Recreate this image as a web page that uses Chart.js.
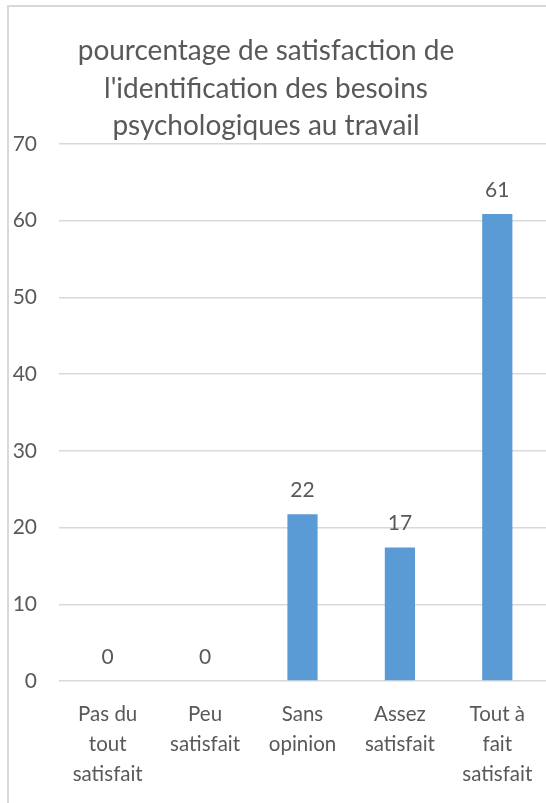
<!DOCTYPE html>
<html>
<head>
<meta charset="utf-8">
<script src="https://cdn.jsdelivr.net/npm/chart.js@4.4.1/dist/chart.umd.min.js"></script>
<style>
  html, body { margin: 0; padding: 0; background: #fff; overflow: hidden; }
  #wrap { position: relative; width: 546px; height: 803px; }
  #frame { position: absolute; left: 7px; top: 5px; right: -10px; bottom: -10px; border-left: 2px solid #d9d9d9; border-top: 2px solid #d9d9d9; }
  canvas { position: absolute; left: 0; top: 0; }
</style>
</head>
<body>
<div id="wrap">
  <div id="frame"></div>
  <canvas id="chart" width="546" height="803"></canvas>
</div>
<script>
// donnees du graphique
const titleLines = ["pourcentage de satisfaction de", "l'identification des besoins", "psychologiques au travail"];
const categories = [["Pas du", "tout", "satisfait"], ["Peu", "satisfait"], ["Sans", "opinion"], ["Assez", "satisfait"], ["Tout à", "fait", "satisfait"]];
const values = [0, 0, 21.74, 17.39, 60.87];
const yMin = 0;
const yMax = 70;
const yStep = 10;

const textColor = "#595959";
const fontFamily = "Lato, 'Open Sans', sans-serif";

// titre dessine a la main (centre decale comme dans l'original)
const titlePlugin = {
  id: "titreManuel",
  afterDraw(chart) {
    const ctx = chart.ctx;
    ctx.save();
    ctx.fillStyle = textColor;
    ctx.font = "28px " + fontFamily;
    ctx.textAlign = "center";
    ctx.textBaseline = "middle";
    titleLines.forEach((line, i) => {
      ctx.fillText(line, 266, 51 + i * 37.5);
    });
    ctx.restore();
  },
};

// etiquettes de valeurs au dessus des barres
const labelsPlugin = {
  id: "etiquettes",
  afterDatasetsDraw(chart) {
    const ctx = chart.ctx;
    const meta = chart.getDatasetMeta(0);
    ctx.save();
    ctx.fillStyle = textColor;
    ctx.font = "21px " + fontFamily;
    ctx.textAlign = "center";
    ctx.textBaseline = "middle";
    meta.data.forEach((bar, i) => {
      ctx.fillText(String(Math.round(values[i])), bar.x, bar.y - 24);
    });
    ctx.restore();
  },
};

new Chart(document.getElementById("chart").getContext("2d"), {
  type: "bar",
  data: {
    labels: categories,
    datasets: [
      {
        data: values,
        backgroundColor: "#5B9BD5",
        borderWidth: 0,
        barPercentage: 0.31,
        categoryPercentage: 1,
      },
    ],
  },
  options: {
    responsive: false,
    animation: false,
    layout: {
      padding: { top: 144, left: 0, right: 0, bottom: 0 },
    },
    plugins: {
      legend: { display: false },
      title: { display: false },
      tooltip: { enabled: false },
    },
    scales: {
      x: {
        grid: { display: false },
        border: { display: false },
        ticks: {
          color: textColor,
          font: { family: fontFamily, size: 20.5, lineHeight: 1.45 },
          padding: 11,
          maxRotation: 0,
          autoSkip: false,
        },
        afterFit(scale) {
          scale.height = 122;
          scale.paddingLeft = 0;
          scale.paddingRight = 0;
        },
      },
      y: {
        min: yMin,
        max: yMax,
        border: { display: false },
        grid: { color: "#d9d9d9", lineWidth: 1.5, drawTicks: false },
        ticks: {
          stepSize: yStep,
          color: textColor,
          font: { family: fontFamily, size: 21 },
          padding: 22,
        },
        afterFit(scale) {
          scale.width = 59;
        },
      },
    },
  },
  plugins: [titlePlugin, labelsPlugin],
});
</script>
</body>
</html>
